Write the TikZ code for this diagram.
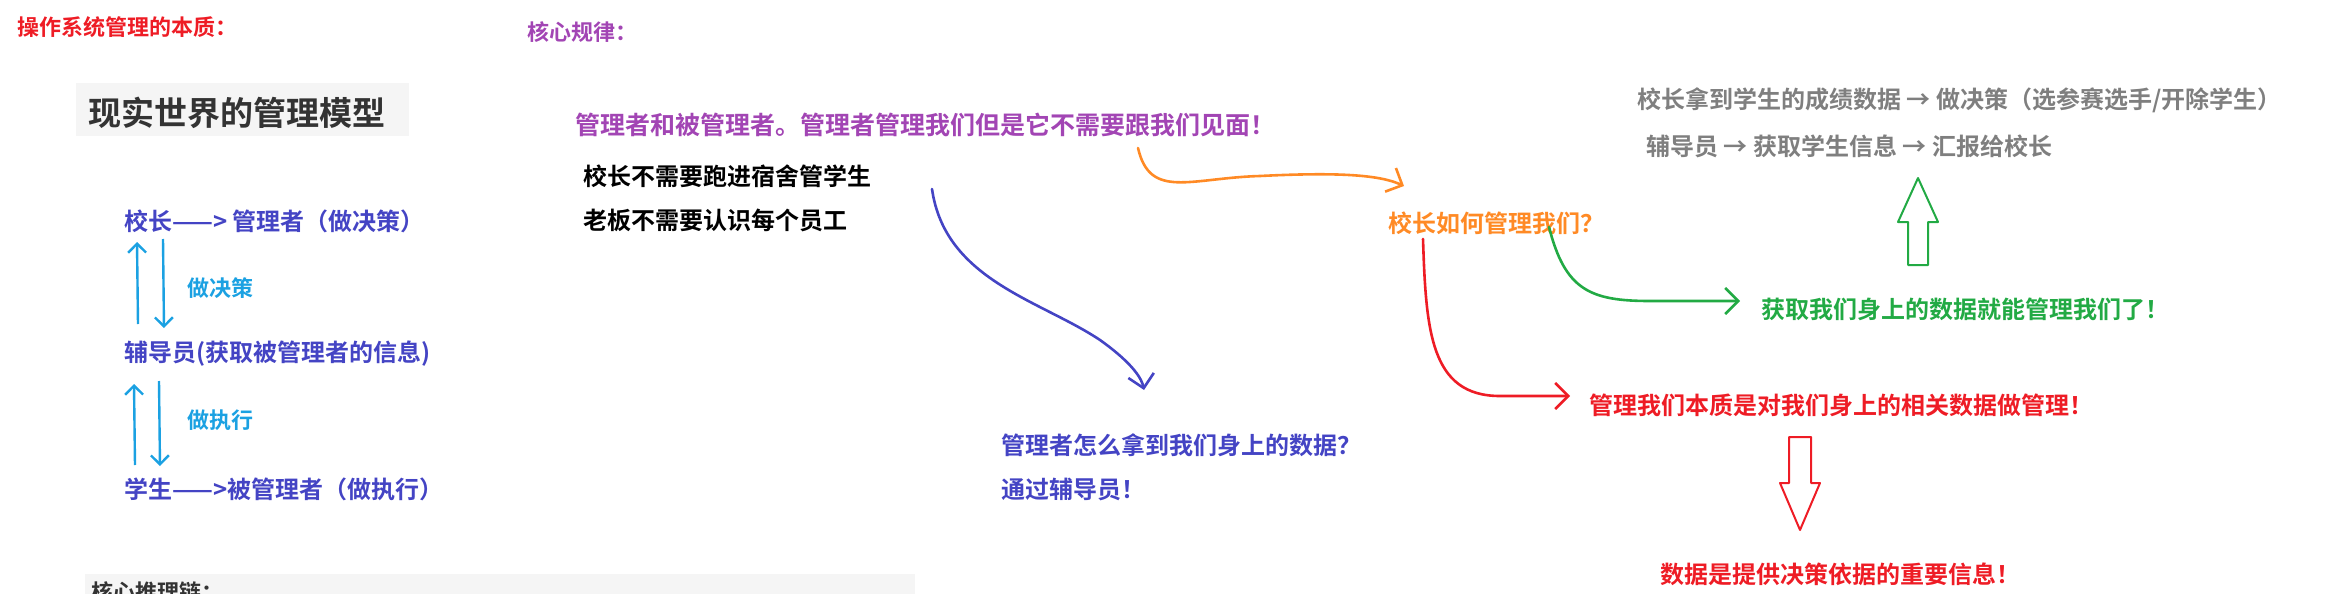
\documentclass[tikz,border=0pt]{standalone}
\usepackage{fontspec}
\setmainfont{Noto Sans CJK SC}[BoldFont={Noto Sans CJK SC Bold}]
\usetikzlibrary{arrows.meta, positioning}
\definecolor{tblue}{HTML}{4444C4}
\definecolor{lblue}{HTML}{1BA1E2}
\definecolor{tpurple}{HTML}{A245B4}
\definecolor{torange}{HTML}{FF8A25}
\definecolor{tgreen}{HTML}{22AA44}
\definecolor{tred}{HTML}{EE1C25}
\definecolor{tgray}{HTML}{7F7F7F}
\tikzset{
  txt/.style={anchor=west, inner sep=0pt, font=\fontsize{#1}{#1}\selectfont\bfseries},
  txt/.default=24,
  hand/.style={line width=2.6pt, line cap=round, -{Straight Barb[length=13pt,width=26pt]}},
}
\begin{document}
\begin{tikzpicture}[x=1pt, y=-1pt]
    \useasboundingbox (0,0) rectangle (2344,594);

    % Headings
    \node[txt=22, tred] (essence) at (17,27) {操作系统管理的本质：};
    \node[txt=22, tpurple] (rule) at (527,32) {核心规律：};

    % Real world model
    \fill[gray!8] (76,83) rectangle (409,136);
    \node[txt=33, black!80] (model) at (88,113) {现实世界的管理模型};
    \node[txt, tblue] (head) at (124,221) {校长——> 管理者（做决策）};
    \node[txt, tblue] (tutor) at (124,354) {辅导员(获取被管理者的信息)};
    \node[txt, tblue] (stud) at (124,489) {学生——>被管理者（做执行）};
    \node[txt=22, lblue] (decide) at (187,288) {做决策};
    \node[txt=22, lblue] (exec) at (187,420) {做执行};
    \draw[lblue, line width=2.4pt, -{Straight Barb[length=9pt,width=18pt]}] (138,324) -- (137,242);
    \draw[lblue, line width=2.4pt, -{Straight Barb[length=9pt,width=18pt]}] (163,239) -- (164,328);
    \draw[lblue, line width=2.4pt, -{Straight Barb[length=9pt,width=18pt]}] (135,465) -- (134,384);
    \draw[lblue, line width=2.4pt, -{Straight Barb[length=9pt,width=18pt]}] (159,381) -- (160,466);

    % Bottom box (cut off)
    \begin{scope}
      \clip (0,0) rectangle (2344,594);
      \fill[gray!8] (85,574) rectangle (915,600);
      \node[txt=22, black!80] (chain) at (91,592) {核心推理链：};
    \end{scope}

    % Core rule
    \node[txt=25, tpurple] (rulea) at (575,125) {管理者和被管理者。管理者管理我们但是它不需要跟我们见面！};
    \node[txt] (ruleb) at (583,176) {校长不需要跑进宿舍管学生};
    \node[txt] (rulec) at (583,220) {老板不需要认识每个员工};
    \node[txt, tblue] (how) at (1001,445) {管理者怎么拿到我们身上的数据？};
    \node[txt, tblue] (via) at (1001,489) {通过辅导员！};
    \node[txt, torange] (ask) at (1388,223) {校长如何管理我们？};
    \node[txt, tgreen] (get) at (1761,309) {获取我们身上的数据就能管理我们了！};
    \node[txt, tred] (core) at (1589,405) {管理我们本质是对我们身上的相关数据做管理！};
    \node[txt, tred] (info) at (1660,574) {数据是提供决策依据的重要信息！};
    \node[txt, tgray] (ex1) at (1637,100) {校长拿到学生的成绩数据 → 做决策（选参赛选手/开除学生）};
    \node[txt, tgray] (ex2) at (1646,146) {辅导员 → 获取学生信息 → 汇报给校长};

    % Hand drawn arrows
    \coordinate (b0) at (932,189);
    \coordinate (b1) at (1144,390);
    \draw[hand, tblue] (b0) .. controls (945,280) and (1040,300) .. (1100,340) .. controls (1135,365) and (1142,380) .. (b1);
    \coordinate (o0) at (1138,148);
    \coordinate (o1) at (1404,186);
    \draw[hand, torange] (o0) .. controls (1150,200) and (1190,178) .. (1260,176) .. controls (1340,172) and (1380,175) .. (o1);
    \coordinate (g0) at (1549,227);
    \coordinate (g1) at (1740,301);
    \draw[hand, tgreen] (g0) .. controls (1565,290) and (1590,301) .. (1650,301) -- (g1);
    \coordinate (r0) at (1423,239);
    \coordinate (r1) at (1570,396);
    \draw[hand, tred] (r0) .. controls (1426,330) and (1430,396) .. (1500,396) -- (r1);

    % Hollow block arrows
    \draw[tred, line width=2pt, line join=round] (1789,437) -- (1811,437) -- (1811,483) -- (1820,483)
      -- (1800,530) -- (1780,483) -- (1789,483) -- cycle;
    \draw[tgreen, line width=2pt, line join=round] (1908,265) -- (1928,265) -- (1928,222) -- (1938,222)
      -- (1918,178) -- (1898,222) -- (1908,222) -- cycle;
\end{tikzpicture}
\end{document}
